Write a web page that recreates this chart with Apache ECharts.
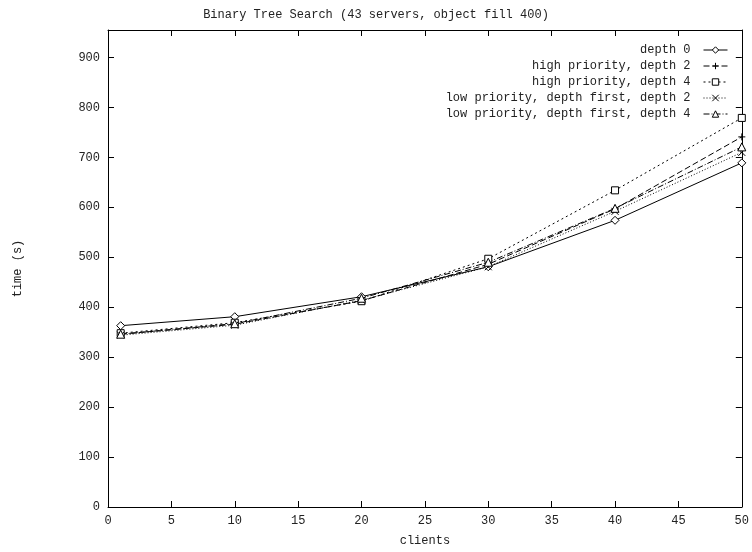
<!DOCTYPE html>
<html>
<head>
<meta charset="utf-8">
<script src="https://cdn.jsdelivr.net/npm/echarts@6/dist/echarts.min.js"></script>
<style>
  html, body { margin: 0; padding: 0; background: #fff; }
  #chart { width: 752px; height: 552px; }
</style>
</head>
<body>
<div id="chart"></div>
<script>
// Number of clients at each measurement
const clients = [1, 10, 20, 30, 40, 50];

// Search time in seconds for each configuration
const depth0      = [363, 381, 421, 481, 574, 689];
const hiDepth2    = [346, 366, 413, 486, 597, 741];
const hiDepth4    = [348, 369, 412, 497, 634, 779];
const loDepth2    = [344, 364, 414, 481, 592, 710];
const loDepth4    = [346, 367, 418, 490, 598, 721];

const seriesNames = [
  'depth 0',
  'high priority, depth 2',
  'high priority, depth 4',
  'low priority, depth first, depth 2',
  'low priority, depth first, depth 4'
];

const xTicks = { min: 0, max: 50, interval: 5 };
const yTicks = { min: 0, max: 955, interval: 100 };

const FONT = '"Liberation Mono", "DejaVu Sans Mono", monospace';
const INK = '#000';
const TXT = '#222';

const plusPath = 'path://M0,5L10,5M5,0L5,10';
const crossPath = 'path://M0,0L10,10M10,0L0,10';

const styles = [
  { data: depth0,   symbol: 'diamond',  size: 8, dash: 'solid' },
  { data: hiDepth2, symbol: plusPath,   size: 7, dash: [6, 3] },
  { data: hiDepth4, symbol: 'rect',     size: 7, dash: [2, 3] },
  { data: loDepth2, symbol: crossPath,  size: 7, dash: [1, 2] },
  { data: loDepth4, symbol: 'triangle', size: 8, dash: [6, 2, 1, 2] }
];

const series = styles.map((s, i) => ({
  name: seriesNames[i],
  type: 'line',
  data: clients.map((c, k) => [c, s.data[k]]),
  symbol: s.symbol,
  symbolSize: s.size,
  showAllSymbol: true,
  animation: false,
  lineStyle: { color: INK, width: 1, type: s.dash },
  itemStyle: { color: '#fff', borderColor: INK, borderWidth: 1 },
  emphasis: { disabled: true }
}));

const tickAxis = (pos, t, showLabels) => ({
  type: 'value',
  position: pos,
  min: t.min, max: t.max, interval: t.interval,
  axisLine: { show: true, onZero: false, lineStyle: { color: INK, width: 1 } },
  axisTick: { show: true, inside: true, length: 6, lineStyle: { color: INK } },
  axisLabel: showLabels ? {
    show: true, color: TXT, fontFamily: FONT, fontSize: 12, margin: 8,
    showMaxLabel: t.max % t.interval === 0 ? true : false
  } : { show: false },
  splitLine: { show: false }
});

const chart = echarts.init(document.getElementById('chart'), null, { renderer: 'canvas' });
chart.setOption({
  animation: false,
  backgroundColor: '#fff',
  title: {
    text: 'Binary Tree Search (43 servers, object fill 400)',
    left: 'center', top: 4,
    textStyle: { fontFamily: FONT, fontSize: 12, fontWeight: 'normal', color: TXT }
  },
  grid: { left: 108, right: 8, top: 30, bottom: 43 },
  legend: {
    orient: 'vertical',
    right: 19, top: 39,
    align: 'right',
    itemWidth: 24, itemHeight: 8, itemGap: 4,
    selectedMode: false,
    lineStyle: { width: 1, color: INK },
    itemStyle: { color: '#fff', borderColor: INK, borderWidth: 1 },
    textStyle: { fontFamily: FONT, fontSize: 12, color: TXT, padding: [0, 8, 0, 0] },
    data: seriesNames
  },
  xAxis: [
    Object.assign(tickAxis('bottom', xTicks, true), {
      name: 'clients', nameLocation: 'middle', nameGap: 28,
      nameTextStyle: { fontFamily: FONT, fontSize: 12, color: TXT }
    }),
    tickAxis('top', xTicks, false)
  ],
  yAxis: [
    Object.assign(tickAxis('left', yTicks, true), {
      name: 'time (s)', nameLocation: 'middle', nameGap: 84, nameRotate: 90,
      nameTextStyle: { fontFamily: FONT, fontSize: 12, color: TXT }
    }),
    tickAxis('right', yTicks, false)
  ],
  series: series
});
</script>
</body>
</html>
